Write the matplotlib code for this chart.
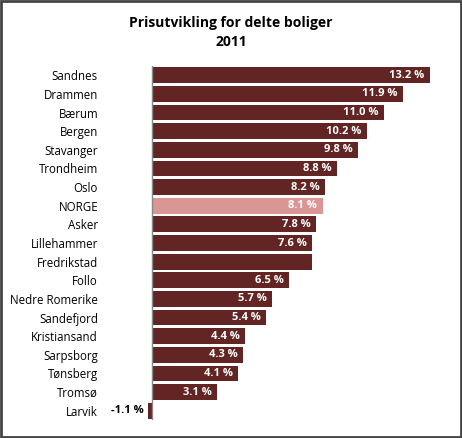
import matplotlib
matplotlib.use("Agg")
import matplotlib.pyplot as plt
from matplotlib.patches import Rectangle

categories = ["Sandnes","Drammen","Bærum","Bergen","Stavanger","Trondheim","Oslo","NORGE",
              "Asker","Lillehammer","Fredrikstad","Follo","Nedre Romerike","Sandefjord",
              "Kristiansand","Sarpsborg","Tønsberg","Tromsø","Larvik"]
values = [13.2,11.9,11.0,10.2,9.8,8.8,8.2,8.1,7.8,7.6,7.6,6.5,5.7,5.4,4.4,4.3,4.1,3.1,-1.1]
labels = ["13.2 %","11.9 %","11.0 %","10.2 %","9.8 %","8.8 %","8.2 %","8.1 %","7.8 %","7.6 %",
          "","6.5 %","5.7 %","5.4 %","4.4 %","4.3 %","4.1 %","3.1 %","-1.1 %"]

plt.rcParams['font.family'] = ['Open Sans', 'DejaVu Sans']
W, H = 462, 438
fig = plt.figure(figsize=(W/100, H/100), dpi=100)
fig.patches.append(Rectangle((0.003, 0.003), 0.994, 0.994, transform=fig.transFigure,
                             fill=False, edgecolor='#444444', linewidth=2))
ax = fig.add_axes([148/W, 1-420/H, (452-148)/W, (420-66)/H])
y = list(range(len(categories)))
colors = ['#d99694' if c == "NORGE" else '#632523' for c in categories]
ax.barh(y, values, height=0.85, color=colors, zorder=2)
ax.set_xlim(-0.2, 14.25)
ax.set_ylim(len(categories)-0.5, -0.5)
ax.axvline(0, color='#888888', linewidth=1, zorder=3)
for s in ax.spines.values():
    s.set_visible(False)
ax.set_xticks([])
ax.set_yticks(y)
ax.set_yticklabels(categories, fontsize=8.3)
ax.tick_params(axis='y', length=0, pad=36)
for yi, v, l in zip(y, values, labels):
    if not l:
        continue
    if v >= 0:
        ax.text(v - 0.25, yi, l, ha='right', va='center', color='white', fontsize=8,
                fontweight='bold', zorder=4)
    else:
        ax.text(-0.4, yi, l, ha='right', va='center', color='black', fontsize=8,
                fontweight='bold', clip_on=False, zorder=4)
fig.text(0.5, 1-16/H, "Prisutvikling for delte boliger\n2011", ha='center', va='top',
         fontsize=10, fontweight='bold', linespacing=1.5)
fig.savefig("out.png", dpi=100)
